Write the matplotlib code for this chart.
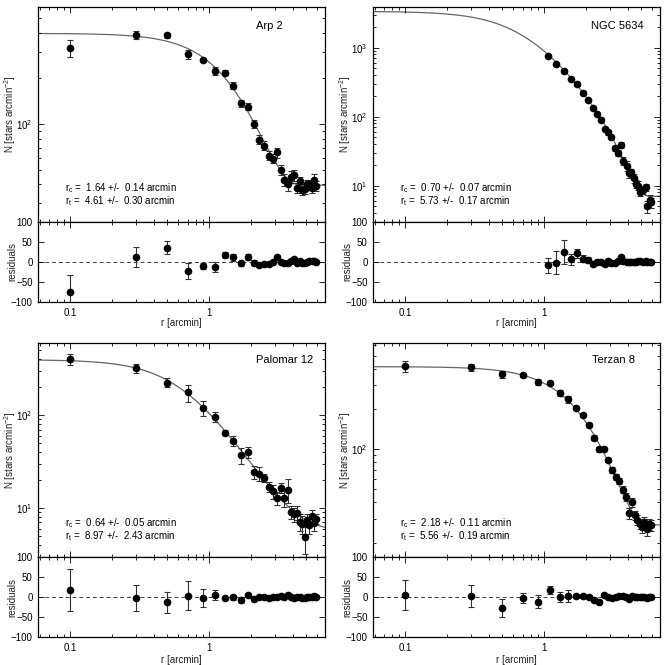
import numpy as np
import matplotlib

matplotlib.use("Agg")
import matplotlib.pyplot as plt
from matplotlib.ticker import FixedLocator, FixedFormatter, NullFormatter

plt.rcParams["font.family"] = ["Liberation Sans", "DejaVu Sans"]
plt.rcParams["mathtext.default"] = "regular"

# ---------------------------------------------------------------------------
# Data
# ---------------------------------------------------------------------------
R_STEP = [0.1, 0.3, 0.5, 0.7, 0.9, 1.1, 1.3, 1.5, 1.7, 1.9,
          2.1, 2.3, 2.5, 2.7, 2.9, 3.1, 3.3, 3.5, 3.7, 3.9,
          4.1, 4.3, 4.5, 4.7, 4.9, 5.1, 5.3, 5.5, 5.7, 5.9]

# Arp 2
ARP2_N = [318, 388, 384, 289, 263, 224, 218, 179, 137, 130,
          100, 79, 72, 62, 59, 65, 50, 43, 40, 45,
          46, 38, 42, 37, 37.5, 40, 40, 38, 43, 39]
ARP2_ERR = [42, 25, 16, 20, 8, 12, 8, 9, 7, 7,
            6, 5, 5, 4, 4, 5, 4, 4, 4, 4,
            4, 3, 3, 3, 3, 3, 3, 3, 4, 3]
ARP2_RES = [-75, 12, 35, -23, -11, -13, 17, 11, -4, 12,
            -2, -8, -5, -5, 0, 12, 0, -4, -4, 3,
            6, -2, 2, -3, -3, 0, 1, 3, 1, -1]

# NGC 5634
NGC_R = [1.07, 1.23, 1.40, 1.57, 1.74, 1.90, 2.09, 2.24, 2.42, 2.58,
         2.75, 2.91, 3.06, 3.23, 3.40, 3.57, 3.73, 3.95, 4.08, 4.24,
         4.43, 4.61, 4.79, 4.92, 5.15, 5.41, 5.56, 5.81, 5.91]
NGC_N = [758, 574, 464, 352, 294, 223, 175, 132, 109, 90,
         66, 59, 50, 35, 29.5, 39, 23, 19.5, 15.1, 15.5,
         12.8, 10.6, 10.0, 8.2, 8.7, 9.5, 5.0, 6.2, 5.7]
NGC_ERR = [19, 29, 30, 14, 12, 9, 8, 5, 4, 4,
           4, 4, 3, 3, 3, 4, 3, 3, 2, 2,
           2, 1.5, 1.5, 1.2, 1.2, 1.2, 1.0, 1.0, 1.0]
NGC_RES = [-9, -2, 24, 6, 21, 8, 5, -6, 0, 0,
           -6, 2, -3, -3, 2, 12, 1, 0, 0, 0,
           0, 0, 1, 1, 0, 1, -1, 0, 0]

# Palomar 12
PAL_N = [399, 319, 225, 176, 121, 96, 65, 53, 37, 40,
         24.4, 23.4, 21, 16.9, 15.1, 12.8, 16.6, 12.8, 15.8, 9.1,
         8.6, 8.9, 7.1, 6.7, 4.9, 7.5, 6.5, 8.3, 6.9, 7.7]
PAL_ERR = [52, 33, 26, 37, 22, 12, 4, 6, 7, 5,
           4, 4, 2, 2, 2.5, 2, 2, 2.5, 4.5, 1.5,
           1.5, 1.5, 1.5, 1.5, 1.7, 1.2, 1.2, 1.3, 1.2, 1.0]
PAL_RES = [18, -2, -12, 4, -2, 6, -3, 0, -7, 6,
           -4, 0, 0, -1, 0, 0, 3, 0, 5, 0,
           -1, 0, 0, -1, -2, 0, 1, 1, 2, 1]

# Terzan 8
TER_N = [419, 410, 363, 358, 320, 315, 265, 236, 205, 179,
         151, 122, 100, 101, 82.7, 69.6, 62, 57.5, 49.8, 43.9,
         33.3, 40.3, 32, 29.7, 27.7, 26.2, 28.5, 25.1, 27.5, 26.9]
TER_ERR = [38, 28, 22, 12, 17, 10, 13, 15, 5, 6,
           5, 5, 4, 3, 3, 3.5, 3, 3, 3, 3,
           3, 3, 2.5, 2.5, 2.5, 2.5, 2.5, 2.5, 2.5, 2.5]
TER_RES = [6, 3, -27, -2, -11, 17, 0, 3, 3, 3,
           0, -7, -12, 6, 0, -2, 0, 2, 2, 0,
           -5, 4, 0, 0, 0, 1, 0, -1, 0, 0]

# King-profile fit parameters: central amplitude, r_c, r_t, background
NAMES = ["Arp 2", "NGC 5634", "Palomar 12", "Terzan 8"]
FIT_K = [806, 4335, 452, 962]
FIT_RC = [1.64, 0.70, 0.64, 2.18]
FIT_RC_ERR = [0.14, 0.07, 0.05, 0.11]
FIT_RT = [4.61, 5.73, 8.97, 5.56]
FIT_RT_ERR = [0.30, 0.17, 2.43, 0.19]
FIT_BG = [39.5, 7.0, 6.0, 27.2]

PANELS = [
    (R_STEP, ARP2_N, ARP2_ERR, ARP2_RES),
    (NGC_R, NGC_N, NGC_ERR, NGC_RES),
    (R_STEP, PAL_N, PAL_ERR, PAL_RES),
    (R_STEP, TER_N, TER_ERR, TER_RES),
]

# ---------------------------------------------------------------------------
# Layout (pixel boxes of the 669x665 canvas)
# ---------------------------------------------------------------------------
W, H = 669, 665
XLIM = (0.0588, 6.86)
YLIMS = [(22.7, 588), (3.0, 3843), (2.96, 604), (15.6, 627)]
LEFTS = [38.3, 373.3, 38.3, 373.3]
TOPS = [7.3, 7.3, 342.7, 342.7]
MAIN_H = 214.4
RES_H = 80.3
AX_W = 286.7
NAME_POS = [(0.852, 0.913), (0.942, 0.913), (0.959, 0.919), (0.913, 0.917)]
XLABEL_Y = [-0.20, -0.20, -0.22, -0.22]

FIT_COLOR = "#666666"


def px_rect(left, top, width, height):
    return [left / W, 1 - (top + height) / H, width / W, height / H]


def king(r, k, rc, rt, bg):
    r = np.asarray(r, dtype=float)
    term = 1 / np.sqrt(1 + (r / rc) ** 2) - 1 / np.sqrt(1 + (rt / rc) ** 2)
    term = np.where(r < rt, term, 0.0)
    return k * term ** 2 + bg


def style_axis(ax):
    ax.tick_params(which="both", direction="in", top=True, right=True,
                   labelsize=7, width=0.6, pad=4)
    ax.tick_params(which="major", length=4)
    ax.tick_params(which="minor", length=2.3)
    for sp in ax.spines.values():
        sp.set_linewidth(0.9)


fig = plt.figure(figsize=(W / 100, H / 100), dpi=100)

for i, (r, n, err, res) in enumerate(PANELS):
    left, top = LEFTS[i], TOPS[i]
    ax = fig.add_axes(px_rect(left, top, AX_W, MAIN_H))
    axr = fig.add_axes(px_rect(left, top + MAIN_H, AX_W, RES_H))

    # main profile
    rr = np.logspace(np.log10(XLIM[0]), np.log10(XLIM[1]), 400)
    ax.plot(rr, king(rr, FIT_K[i], FIT_RC[i], FIT_RT[i], FIT_BG[i]),
            color=FIT_COLOR, lw=0.9, zorder=1)
    ax.errorbar(r, n, yerr=err, fmt="o", color="black", ms=4.5,
                ecolor="#333333", elinewidth=0.8, capsize=2, capthick=0.8,
                zorder=2)
    ax.set_xscale("log")
    ax.set_yscale("log")
    ax.set_xlim(*XLIM)
    ax.set_ylim(*YLIMS[i])
    ax.xaxis.set_major_formatter(NullFormatter())
    ax.xaxis.set_minor_formatter(NullFormatter())
    ax.yaxis.set_minor_formatter(NullFormatter())
    style_axis(ax)
    ax.set_ylabel("N [stars arcmin$^{-2}$]", fontsize=7, color="#222222")
    ax.yaxis.set_label_coords(-0.072, 0.5)

    ax.text(NAME_POS[i][0], NAME_POS[i][1], NAMES[i], transform=ax.transAxes,
            ha="right", va="center", fontsize=8)
    fit_txt = (f"r$_c$ =  {FIT_RC[i]:.2f} +/-  {FIT_RC_ERR[i]:.2f} arcmin\n"
               f"r$_t$ =  {FIT_RT[i]:.2f} +/-  {FIT_RT_ERR[i]:.2f} arcmin")
    ax.text(0.093, 0.128, fit_txt, transform=ax.transAxes, ha="left",
            va="center", fontsize=7, linespacing=0.95)

    # residuals
    axr.axhline(0, color="#444444", lw=0.7, ls=(0, (4, 3)), zorder=1)
    axr.errorbar(r, res, yerr=err, fmt="o", color="black", ms=4.5,
                 ecolor="#333333", elinewidth=0.8, capsize=2, capthick=0.8,
                 zorder=2)
    axr.set_xscale("log")
    axr.set_xlim(*XLIM)
    axr.set_ylim(-100, 100)
    axr.yaxis.set_major_locator(FixedLocator([-100, -50, 0, 50, 100]))
    axr.xaxis.set_major_locator(FixedLocator([0.1, 1]))
    axr.xaxis.set_major_formatter(FixedFormatter(["0.1", "1"]))
    axr.xaxis.set_minor_formatter(NullFormatter())
    style_axis(axr)
    axr.set_ylabel("residuals", fontsize=7, color="#222222")
    axr.yaxis.set_label_coords(-0.072, 0.5)
    axr.set_xlabel("r [arcmin]", fontsize=7, color="#222222")
    axr.xaxis.set_label_coords(0.5, XLABEL_Y[i])

fig.savefig("out.png", dpi=100)
